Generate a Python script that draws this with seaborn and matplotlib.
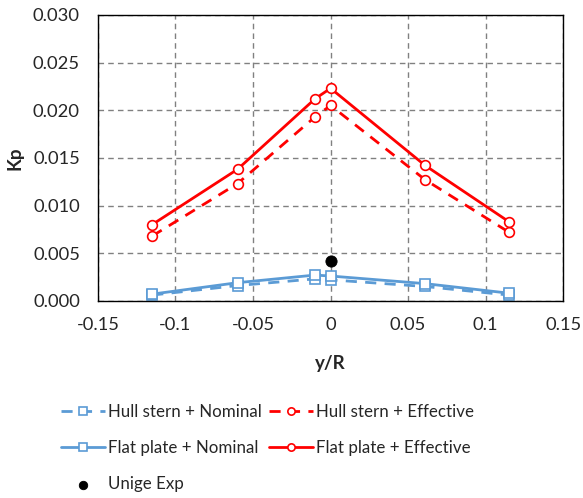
import matplotlib
matplotlib.use("Agg")
import matplotlib.pyplot as plt
import seaborn as sns
import pandas as pd

y_R = [-0.115, -0.06, -0.01, 0.0, 0.061, 0.115]
hull_nominal = [0.0006, 0.0016, 0.0023, 0.0022, 0.0015, 0.0006]
hull_effective = [0.0068, 0.0123, 0.0193, 0.0205, 0.0127, 0.0072]
flat_nominal = [0.0007, 0.0019, 0.0027, 0.0026, 0.0018, 0.0008]
flat_effective = [0.0080, 0.0138, 0.0212, 0.0223, 0.0142, 0.0083]
exp_x = [0.0]
exp_y = [0.0042]

labels = ["Hull stern + Nominal", "Hull stern + Effective",
          "Flat plate + Nominal", "Flat plate + Effective"]

sns.set_style("white")
plt.rcParams['font.family'] = ['Lato', 'DejaVu Sans']

fig = plt.figure(figsize=(5.83, 4.98), dpi=100)
ax = fig.add_axes([0.168, 0.396, 0.798, 0.574])

blue = "#5B9BD5"
red = "#FF0000"
series = [
    (labels[0], hull_nominal, blue, (0, (4, 3)), "s"),
    (labels[1], hull_effective, red, (0, (4, 3)), "o"),
    (labels[2], flat_nominal, blue, "-", "s"),
    (labels[3], flat_effective, red, "-", "o"),
]
for name, vals, col, ls, mk in series:
    df = pd.DataFrame({"x": y_R, "y": vals})
    sns.lineplot(data=df, x="x", y="y", ax=ax, color=col, linewidth=2,
                 marker=mk, markersize=7,
                 markerfacecolor="white", markeredgecolor=col,
                 markeredgewidth=1.2, label=name, sort=False)
    line = ax.get_lines()[-1]
    line.set_linestyle(ls)

edf = pd.DataFrame({"x": exp_x, "y": exp_y})
sns.scatterplot(data=edf, x="x", y="y", ax=ax, color="black", s=65,
                edgecolor="black", label="Unige Exp", zorder=5)

ax.set_xlim(-0.15, 0.15)
ax.set_ylim(0, 0.030)
ax.set_xticks([-0.15, -0.1, -0.05, 0, 0.05, 0.1, 0.15])
ax.set_xticklabels(["-0.15", "-0.1", "-0.05", "0", "0.05", "0.1", "0.15"])
ax.set_yticks([0, 0.005, 0.01, 0.015, 0.02, 0.025, 0.03])
ax.set_yticklabels(["0.000", "0.005", "0.010", "0.015", "0.020", "0.025", "0.030"])
ax.tick_params(axis="y", labelsize=13.2, length=0, pad=13)
ax.tick_params(axis="x", labelsize=13.2, length=0, pad=12)
ax.grid(True, color="#808080", linestyle=(0, (4, 3)), linewidth=1)
for s in ax.spines.values():
    s.set_color("black")
    s.set_linewidth(1)
ax.set_xlabel("y/R", fontsize=13.5, fontweight="bold")
ax.set_ylabel("Kp", fontsize=13.5, fontweight="bold")
ax.xaxis.set_label_coords(0.5, -0.19)
ax.yaxis.set_label_coords(-0.16, 0.5)

h, l = ax.get_legend_handles_labels()
ax.legend_.remove()
hd = dict(zip(l, h))
order = [labels[0], labels[2], "Unige Exp", labels[1], labels[3]]
fig.legend([hd[k] for k in order], order, loc="upper left",
           bbox_to_anchor=(0.078, 0.22), ncol=2, frameon=False, fontsize=12.2,
           handlelength=2.6, columnspacing=0.4, labelspacing=1.2,
           handletextpad=0.2, markerscale=0.75)

fig.savefig("out.png", dpi=100)
